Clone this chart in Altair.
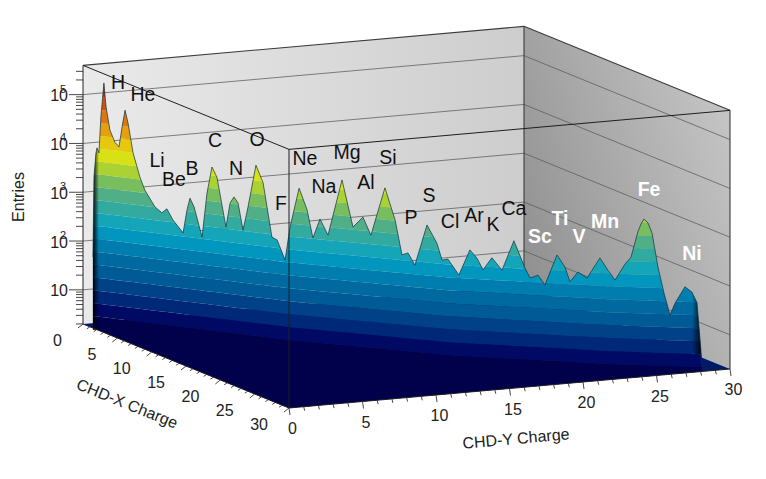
import numpy as np
import pandas as pd
import altair as alt

# silhouette of the charge peak along X = Y
ridge_charge = [0.46, 0.51, 0.60, 0.65, 0.74, 0.83, 0.97, 1.07, 1.25, 1.48, 1.67, 1.81, 1.95, 2.09, 2.32, 2.64,
                2.87, 3.34, 3.66, 3.89, 4.17, 4.64, 4.82, 4.96, 5.15, 5.52, 5.75, 5.98, 6.21, 6.63, 6.82, 7.00,
                7.19, 7.42, 7.65, 8.02, 8.35, 8.76, 9.00, 9.37, 9.60, 10.02, 10.39, 10.66, 10.99, 11.36, 12.01,
                12.52, 12.98, 13.35, 14.00, 14.47, 14.79, 15.07, 15.39, 15.95, 16.41, 16.65, 16.92, 17.43, 17.94,
                18.27, 18.55, 18.96, 19.43, 19.98, 20.49, 20.73, 21.10, 21.42, 21.98, 22.35, 22.58, 22.95, 23.37,
                23.97, 24.34, 24.67, 25.13, 25.41, 25.73, 25.87, 26.01, 26.20, 26.38, 26.66, 26.94, 27.22, 27.45,
                27.91, 28.24, 28.47, 28.65, 28.70]
ridge_log = [1.69, 3.33, 3.82, 3.93, 3.83, 4.57, 5.27, 4.78, 4.31, 4.07, 3.98, 4.39, 4.74, 4.48, 3.88, 3.39,
             3.13, 2.80, 2.69, 2.78, 2.56, 2.31, 2.78, 3.03, 2.86, 2.25, 3.16, 3.70, 3.50, 2.49, 2.99, 3.12,
             3.00, 2.45, 2.93, 3.80, 3.45, 2.35, 2.30, 1.90, 2.58, 3.39, 2.96, 2.39, 2.79, 2.47, 3.62,
             2.67, 2.89, 2.53, 3.52, 2.88, 2.17, 2.22, 1.98, 2.82, 2.46, 2.12, 2.15, 1.84, 2.37,
             2.21, 1.98, 2.24, 2.00, 2.62, 2.08, 1.88, 1.95, 1.76, 2.39, 2.15, 1.86, 2.07, 1.96,
             2.39, 2.15, 1.96, 2.30, 2.45, 2.98, 3.14, 3.25, 3.175, 2.98, 2.29, 1.76, 1.32, 1.57,
             1.92, 1.82, 1.61, 0.65, 0.30]

# how far the low edge of the surface sits in front of the ridge (charge units)
front_charge = [0.8, 9.6, 17.0, 24.4, 28.7]
front_offset = [2.0, 6.3, 8.0, 7.0, 5.6]

band_colors = ["#00004b", "#000a64", "#002878", "#004187", "#005a96", "#0069a0", "#007daf", "#0096be",
               "#14a5b9", "#32aaa0", "#50af87", "#78be5f", "#aad232", "#d7e114", "#e6c80f", "#e6a00f",
               "#dc780f", "#d2500f", "#c8280a", "#b4140a"]

elements = ["H", "He", "Li", "Be", "B", "C", "N", "O", "F", "Ne", "Na", "Mg", "Al", "Si", "P", "S", "Cl", "Ar",
            "K", "Ca"]
element_x = [118, 143, 157, 174, 192, 215, 236, 257, 281, 305, 324, 347, 366, 388, 411, 429, 450, 474, 493, 514]
element_y = [83, 95, 161, 180, 169, 141, 169, 140, 204, 159, 187, 153, 183, 158, 218, 196, 222, 216, 225, 209]
heavy = ["Sc", "Ti", "V", "Mn", "Fe", "Ni"]
heavy_x = [540, 560, 579, 605, 649, 692]
heavy_y = [237, 219, 237, 222, 190, 254]

decades = [1, 2, 3, 4, 5]
charge_ticks = [0, 5, 10, 15, 20, 25, 30]

FONT = "Liberation Sans"
LOG_MIN, LOG_MAX = 0.3, 5.6
DECADE = 48.8
STEP = (LOG_MAX - LOG_MIN) / 20 * DECADE


def project(x, y, log=LOG_MIN):
    x, y, log = np.asarray(x, float), np.asarray(y, float), np.asarray(log, float)
    return (83 + x * 206 / 30 + y * 441 / 30,
            324 + x * 84 / 30 - y * 39 / 30 - (log - LOG_MIN) * DECADE)


def seg(p0, p1):
    return {"x": float(p0[0]), "y": float(p0[1]), "x2": float(p1[0]), "y2": float(p1[1])}


def gradient(c0, c1, x1=0, y1=0, x2=1, y2=0):
    return alt.LinearGradient(gradient="linear", x1=x1, y1=y1, x2=x2, y2=y2,
                              stops=[alt.GradientStop(color=c0, offset=0), alt.GradientStop(color=c1, offset=1)])


sx = alt.Scale(domain=[8, 758], zero=False, nice=False)
sy = alt.Scale(domain=[471, 8], zero=False, nice=False)


def enc_xy(base, **kw):
    return base.encode(x=alt.X("x:Q", scale=sx, axis=None), y=alt.Y("y:Q", scale=sy, axis=None), **kw)


def rules(rows, color, width=1.0, opacity=1.0):
    return enc_xy(alt.Chart(pd.DataFrame(rows)).mark_rule(color=color, strokeWidth=width, opacity=opacity),
                  x2="x2:Q", y2="y2:Q")


def area(df, **mark):
    return enc_xy(alt.Chart(df).mark_area(**mark), y2="y2:Q")


def texts(df, **mark):
    return enc_xy(alt.Chart(df).mark_text(font=FONT, **mark), text="t:N")


ridge_x, ridge_y = project(ridge_charge, ridge_charge, ridge_log)
front_x = project(front_charge, front_charge)[0]
slope = (84 - 39) / (206 + 441)
per_offset = 84 / 30 - 206 / 30 * slope


def contour_y(x, k):
    # level k of the 20 colour contours on the front of the surface
    base = project(0, 0)[1] + (x - 83) * slope + np.interp(x, front_x, front_offset) * per_offset
    return base - STEP * k


def floor_edge_y(x):
    return np.where(x <= 289, 324 + (x - 83) * 84 / 206, 408 - (x - 289) * 39 / 441)


def band_rows(k):
    xs = [ridge_x]
    for level in (k, k + 1):
        d = ridge_y - contour_y(ridge_x, level)
        cross = np.where(d[:-1] * d[1:] < 0)[0]
        xs.append(ridge_x[cross] + (ridge_x[cross + 1] - ridge_x[cross]) * d[cross] / (d[cross] - d[cross + 1]))
    x = np.unique(np.concatenate(xs))
    sil = np.interp(x, ridge_x, ridge_y)
    return pd.DataFrame({"x": x, "y": np.maximum(contour_y(x, k + 1), sil), "y2": np.maximum(contour_y(x, k), sil)})


# walls
wall_a = pd.DataFrame({"x": project([0, 0], [0, 30])[0], "y": project([0, 0], [0, 30], LOG_MAX)[1],
                       "y2": project([0, 0], [0, 30])[1]})
wall_b = pd.DataFrame({"x": project([0, 30], [30, 30])[0], "y": project([0, 30], [30, 30], LOG_MAX)[1],
                       "y2": project([0, 30], [30, 30])[1]})
layers = [
    area(wall_a, color=gradient("#eaeaea", "#cdcdcd")),
    area(wall_b, color=gradient("#8e8e8e", "#c6c6c6", y1=0.8, y2=0.2)),
]

grid = []
for d in decades:
    a = project(0, 0, d)
    b = project(0, 30, d)
    c = project(30, 30, d)
    grid += [seg(a, b), seg(b, c)]
layers.append(rules(grid, "#5a5a5a", 1, 0.75))

back = [seg(project(0, 0, LOG_MAX), project(0, 30, LOG_MAX)), seg(project(0, 30, LOG_MAX), project(30, 30, LOG_MAX)),
        seg(project(0, 30), project(0, 30, LOG_MAX)), seg(project(30, 30), project(30, 30, LOG_MAX))]
layers.append(rules(back, "#3c3c3c", 1.1))

# floor
corner_x, corner_y = project([0, 30, 0, 30], [0, 0, 30, 30])
floor_top = np.interp(corner_x, corner_x[[0, 2, 3]], corner_y[[0, 2, 3]])
floor = pd.DataFrame({"x": corner_x, "y": floor_top, "y2": floor_edge_y(corner_x)})
layers.append(area(floor, color="#001a66"))

# surface
low = pd.DataFrame({"x": ridge_x, "y": np.maximum(contour_y(ridge_x, 1), ridge_y), "y2": floor_edge_y(ridge_x)})
layers.append(area(low, color=band_colors[0]))
for k in range(1, 20):
    layers.append(area(band_rows(k), color=band_colors[k]))

keep_left = ridge_x <= 100
left = pd.DataFrame({"x": ridge_x[keep_left], "y": ridge_y[keep_left], "y2": 330 + 0 * ridge_x[keep_left]})
layers.append(area(left, color=gradient("rgba(0,0,0,0.95)", "rgba(0,0,0,0)")))
keep_right = ridge_x >= 690
right = pd.DataFrame({"x": ridge_x[keep_right], "y": ridge_y[keep_right],
                      "y2": contour_y(ridge_x[keep_right], 2)})
right["y2"] = np.maximum(right["y2"], right["y"])
layers.append(area(right, color=gradient("rgba(0,0,0,0)", "rgba(0,0,0,0.95)")))

outline = pd.DataFrame({"x": ridge_x, "y": ridge_y})
layers.append(enc_xy(alt.Chart(outline).mark_line(color="#10303c", strokeWidth=1, opacity=0.7)))

# front of the box and floor edges
front = [seg(project(0, 0, LOG_MAX), project(30, 0, LOG_MAX)), seg(project(30, 0, LOG_MAX), project(30, 30, LOG_MAX)),
         seg(project(30, 0), project(30, 0, LOG_MAX))]
layers.append(rules(front, "#1e1e1e", 1.0))
edges = [seg(project(0, 0), project(30, 0)), seg(project(30, 0), project(30, 30)),
         seg(project(0, 0), project(0, 0, LOG_MAX))]
layers.append(rules(edges, "#222222", 1.0))

# ticks
ticks = []
for v in range(31):
    major = v % 5 == 0
    x0, y0 = project(v, 0)
    ticks.append(seg((x0, y0), (x0 - (5 if major else 3), y0 + (4 if major else 2))))
    x0, y0 = project(30, v)
    ticks.append(seg((x0, y0), (x0 + 1, y0 + (7 if major else 4))))
for n in range(0, 6):
    for m in range(1, 10):
        log = n + np.log10(m)
        if LOG_MIN <= log <= LOG_MAX:
            x0, y0 = project(0, 0, log)
            ticks.append(seg((x0, y0), (x0 - (14 if m == 1 else 7), y0)))
layers.append(rules(ticks, "#333333", 0.9))

# tick labels
xp = project(charge_ticks, [0] * 7)
layers.append(texts(pd.DataFrame({"x": xp[0] - 21, "y": xp[1] + 17, "t": [str(v) for v in charge_ticks]}),
                    fontSize=16, align="right", baseline="middle", color="#222222"))
yp = project([30] * 7, charge_ticks)
layers.append(texts(pd.DataFrame({"x": yp[0] + 3.5, "y": yp[1] + 21, "t": [str(v) for v in charge_ticks]}),
                    fontSize=16, align="center", baseline="middle", color="#222222"))
zp = project([0] * 5, [0] * 5, decades)
layers.append(texts(pd.DataFrame({"x": zp[0] - 15, "y": zp[1] + 1.5, "t": ["10"] * 5}),
                    fontSize=16, align="right", baseline="middle", color="#222222"))
layers.append(texts(pd.DataFrame({"x": zp[0][1:] - 20, "y": zp[1][1:] - 5, "t": [str(d) for d in decades[1:]]}),
                    fontSize=11, align="center", baseline="middle", color="#222222"))

# titles
layers.append(texts(pd.DataFrame({"x": [19], "y": [197], "t": ["Entries"]}), fontSize=16, angle=270,
                    align="center", baseline="middle", color="#222222"))
layers.append(texts(pd.DataFrame({"x": [127], "y": [404], "t": ["CHD-X Charge"]}), fontSize=16, angle=22,
                    align="center", baseline="middle", color="#222222"))
layers.append(texts(pd.DataFrame({"x": [516], "y": [439], "t": ["CHD-Y Charge"]}), fontSize=16, angle=355,
                    align="center", baseline="middle", color="#222222"))

# element names
layers.append(texts(pd.DataFrame({"x": element_x, "y": element_y, "t": elements}), fontSize=19.5,
                    align="center", baseline="middle", color="#111111"))
layers.append(texts(pd.DataFrame({"x": heavy_x, "y": heavy_y, "t": heavy}), fontSize=19.5, fontWeight="bold",
                    align="center", baseline="middle", color="white"))

chart = alt.layer(*layers).properties(width=750, height=463, padding=0, autosize="none",
                                      background="white").configure_view(stroke=None)
chart.save("out.html", embed_options={"renderer": "svg", "actions": False})
